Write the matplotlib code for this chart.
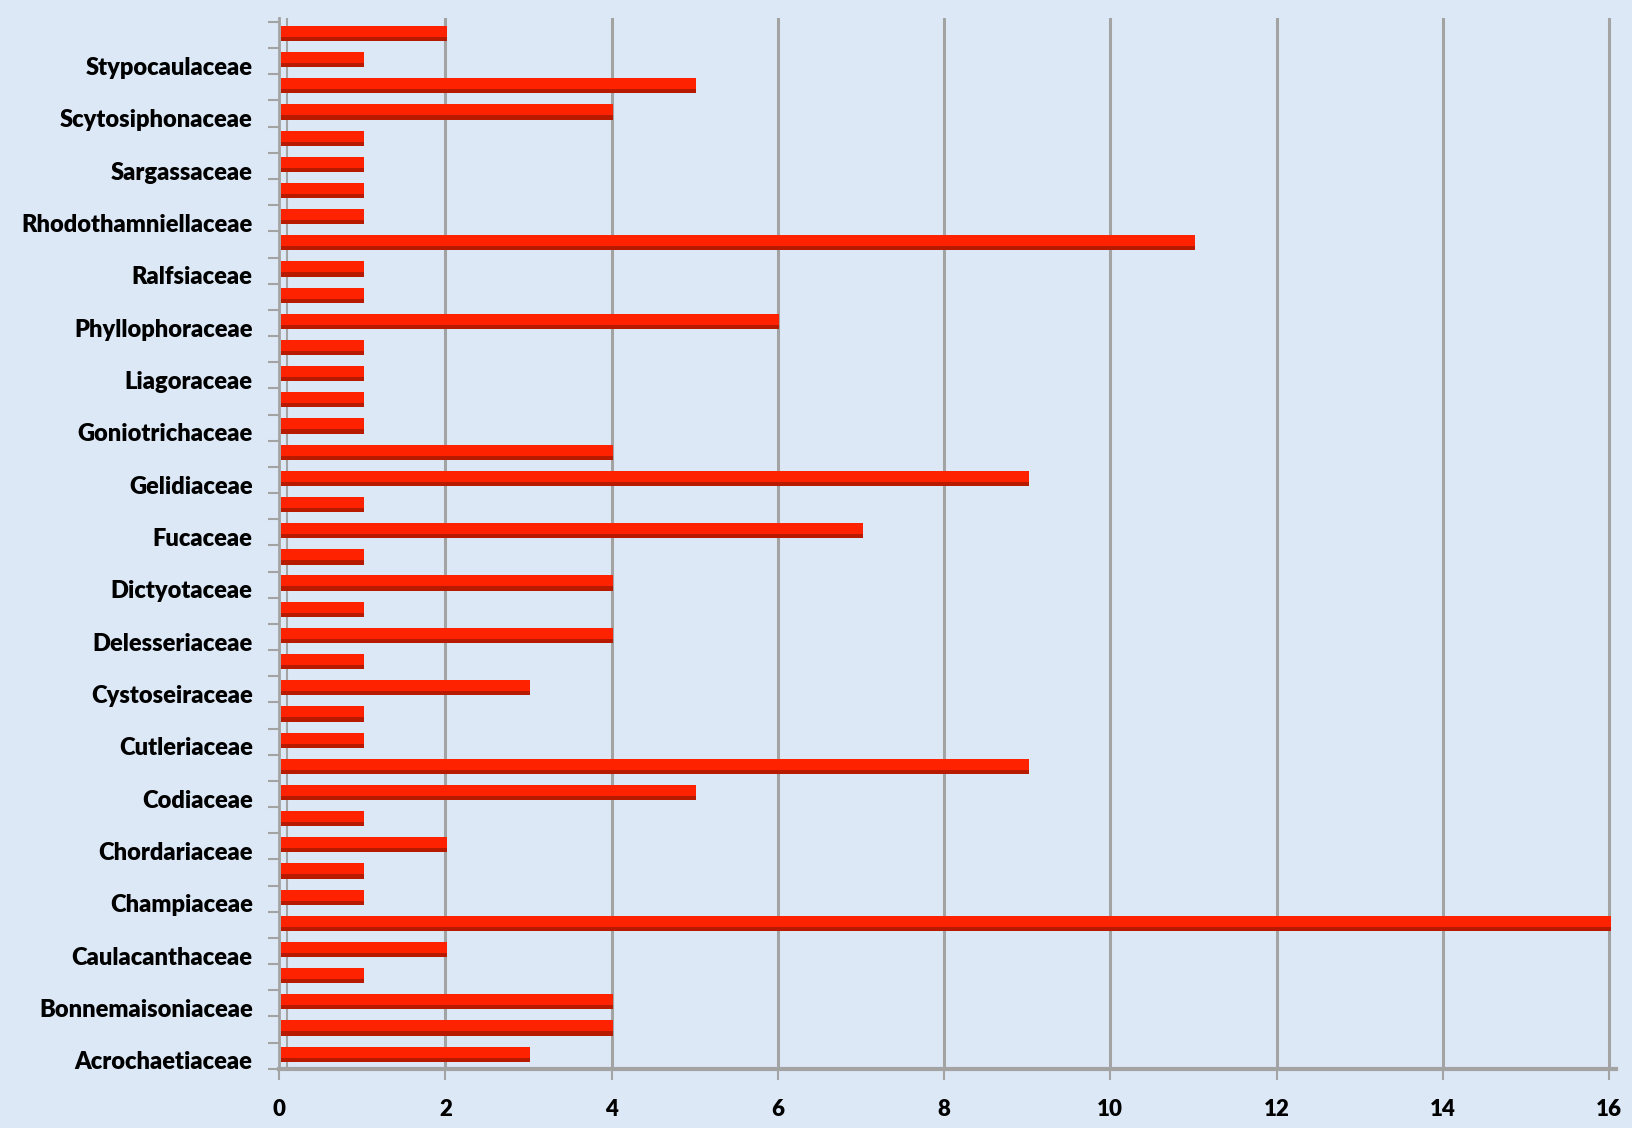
import numpy as np
import matplotlib
matplotlib.use("Agg")
import matplotlib.pyplot as plt

# 40 categories, only every second one carries a label (as in the source chart)
labels = ['Acrochaetiaceae', 'Bonnemaisoniaceae', 'Caulacanthaceae', 'Champiaceae',
          'Chordariaceae', 'Codiaceae', 'Cutleriaceae', 'Cystoseiraceae',
          'Delesseriaceae', 'Dictyotaceae', 'Fucaceae', 'Gelidiaceae',
          'Goniotrichaceae', 'Liagoraceae', 'Phyllophoraceae', 'Ralfsiaceae',
          'Rhodothamniellaceae', 'Sargassaceae', 'Scytosiphonaceae', 'Stypocaulaceae']
values = [3, 4, 4, 1, 2, 16, 1, 1, 2, 1,
          5, 9, 1, 1, 3, 1, 4, 1, 4, 1,
          7, 1, 9, 4, 1, 1, 1, 1, 6, 1,
          1, 11, 1, 1, 1, 1, 4, 5, 1, 2]
xticks = [0, 2, 4, 6, 8, 10, 12, 14, 16]

bg = '#dce8f5'
grid_c = '#a3a3a3'

fig = plt.figure(figsize=(16.32, 11.28), dpi=100, facecolor=bg)
ax = fig.add_axes([0.171, 0.052, 0.819, 0.932], facecolor=bg)

pos = np.arange(len(values))
# dark shadow under each bar, then the bright bar on top
ax.barh(pos - 0.07, values, height=0.52, color='#b81a00', left=0.02, zorder=3)
ax.barh(pos + 0.04, values, height=0.42, color='#ff2200', left=0.02, zorder=4)

ax.set_xlim(0, 16.08)
ax.set_ylim(-0.62, 39.55)

ax.set_xticks(xticks)
ax.set_xticklabels([str(t) for t in xticks], fontsize=16, fontweight='heavy',
                   family='Lato')
ax.tick_params(axis='x', length=8, width=1.5, color=grid_c, pad=13)

ax.set_yticks(np.arange(0, 40, 2) - 0.28)
ax.set_yticklabels(labels, fontsize=17, fontweight='heavy', family='Lato')
ax.set_yticks(np.arange(-1, 40) + 0.4, minor=True)
ax.tick_params(axis='y', which='major', length=0, pad=19)
ax.tick_params(axis='y', which='minor', length=8, width=1.5, color=grid_c)

for x in xticks[1:]:
    ax.axvline(x, color=grid_c, lw=2.2, zorder=1)
ax.axvline(0.1, color=grid_c, lw=1.5, zorder=1)

for s in ['top', 'right']:
    ax.spines[s].set_visible(False)
ax.spines['left'].set_color(grid_c)
ax.spines['left'].set_linewidth(2)
ax.spines['bottom'].set_color(grid_c)
ax.spines['bottom'].set_linewidth(3)

fig.savefig('out.png', dpi=100, facecolor=bg)
